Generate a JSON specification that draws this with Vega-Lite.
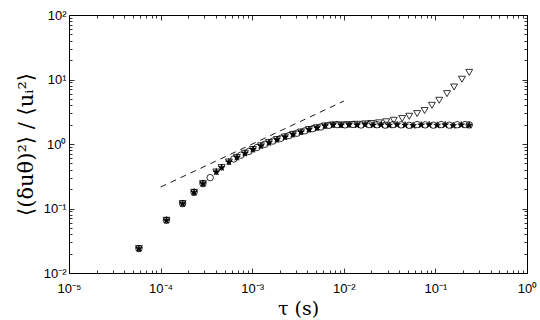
{
  "$schema": "https://vega.github.io/schema/vega-lite/v6.json",
  "width": 458,
  "height": 258,
  "autosize": {"type": "none"},
  "padding": {"left": 69, "top": 15, "right": 13, "bottom": 47},
  "background": "white",
  "config": {
    "view": {"stroke": null},
    "axis": {
      "domainColor": "black",
      "domainWidth": 1,
      "tickColor": "black",
      "tickWidth": 0.8,
      "grid": false,
      "labelFont": "Liberation Sans",
      "labelFontSize": 13,
      "labelColor": "black",
      "titleFont": "DejaVu Serif",
      "titleFontWeight": "normal",
      "titleColor": "black"
    }
  },
  "datasets": {
    "stars": [
      {"t": 5.8e-5, "v": 0.0239}, {"t": 1.16e-4, "v": 0.0656}, {"t": 1.74e-4, "v": 0.119},
      {"t": 2.32e-4, "v": 0.178}, {"t": 2.9e-4, "v": 0.243}, {"t": 4.06e-4, "v": 0.368},
      {"t": 4.64e-4, "v": 0.431}, {"t": 5.57e-4, "v": 0.526}, {"t": 6.81e-4, "v": 0.621},
      {"t": 8.33e-4, "v": 0.718}, {"t": 1.019e-3, "v": 0.822}, {"t": 1.247e-3, "v": 0.938},
      {"t": 1.524e-3, "v": 1.052}, {"t": 1.865e-3, "v": 1.171}, {"t": 2.281e-3, "v": 1.285},
      {"t": 2.789e-3, "v": 1.41}, {"t": 3.411e-3, "v": 1.53}, {"t": 4.17e-3, "v": 1.675},
      {"t": 5.1e-3, "v": 1.78}, {"t": 6.24e-3, "v": 1.905}, {"t": 7.63e-3, "v": 1.985},
      {"t": 9.33e-3, "v": 1.96}, {"t": 1.141e-2, "v": 1.99}, {"t": 1.396e-2, "v": 1.97},
      {"t": 1.707e-2, "v": 2.0}, {"t": 2.088e-2, "v": 1.96}, {"t": 2.553e-2, "v": 1.98},
      {"t": 3.123e-2, "v": 1.95}, {"t": 3.82e-2, "v": 1.99}, {"t": 4.67e-2, "v": 1.96},
      {"t": 5.71e-2, "v": 1.93}, {"t": 6.99e-2, "v": 1.97}, {"t": 8.55e-2, "v": 1.99},
      {"t": 0.1045, "v": 1.95}, {"t": 0.1278, "v": 1.98}, {"t": 0.1563, "v": 1.93},
      {"t": 0.1913, "v": 1.97}, {"t": 0.234, "v": 1.95}
    ],
    "circles": [
      {"t": 5.8e-5, "v": 0.0239}, {"t": 1.16e-4, "v": 0.0656}, {"t": 1.74e-4, "v": 0.119},
      {"t": 2.32e-4, "v": 0.178}, {"t": 2.9e-4, "v": 0.243}, {"t": 3.48e-4, "v": 0.301},
      {"t": 6.3e-4, "v": 0.586}, {"t": 7.53e-4, "v": 0.671}, {"t": 9.21e-4, "v": 0.767},
      {"t": 1.127e-3, "v": 0.881}, {"t": 1.379e-3, "v": 0.993}, {"t": 1.686e-3, "v": 1.112},
      {"t": 2.063e-3, "v": 1.227}, {"t": 2.523e-3, "v": 1.35}, {"t": 3.085e-3, "v": 1.47},
      {"t": 3.773e-3, "v": 1.6}, {"t": 4.61e-3, "v": 1.73}, {"t": 5.64e-3, "v": 1.84},
      {"t": 6.9e-3, "v": 1.95}, {"t": 8.44e-3, "v": 2.0}, {"t": 1.032e-2, "v": 1.98},
      {"t": 1.262e-2, "v": 2.01}, {"t": 1.544e-2, "v": 1.97}, {"t": 1.888e-2, "v": 2.0},
      {"t": 2.309e-2, "v": 1.99}, {"t": 2.824e-2, "v": 1.96}, {"t": 3.454e-2, "v": 2.0},
      {"t": 4.22e-2, "v": 1.98}, {"t": 5.16e-2, "v": 1.95}, {"t": 6.32e-2, "v": 2.0},
      {"t": 7.73e-2, "v": 1.98}, {"t": 9.46e-2, "v": 1.96}, {"t": 0.1156, "v": 2.0},
      {"t": 0.1414, "v": 1.96}, {"t": 0.1729, "v": 1.99}, {"t": 0.2115, "v": 2.0},
      {"t": 0.234, "v": 1.98}
    ],
    "triangles": [
      {"t": 5.8e-5, "v": 0.0239}, {"t": 1.16e-4, "v": 0.0656}, {"t": 1.74e-4, "v": 0.119},
      {"t": 2.32e-4, "v": 0.178}, {"t": 2.9e-4, "v": 0.243}, {"t": 4.06e-4, "v": 0.368},
      {"t": 4.64e-4, "v": 0.431}, {"t": 5.57e-4, "v": 0.526}, {"t": 6.81e-4, "v": 0.621},
      {"t": 8.33e-4, "v": 0.718}, {"t": 1.019e-3, "v": 0.822}, {"t": 1.247e-3, "v": 0.938},
      {"t": 1.524e-3, "v": 1.052}, {"t": 1.865e-3, "v": 1.171}, {"t": 2.281e-3, "v": 1.285},
      {"t": 2.789e-3, "v": 1.41}, {"t": 3.411e-3, "v": 1.53}, {"t": 4.17e-3, "v": 1.675},
      {"t": 5.1e-3, "v": 1.78}, {"t": 6.24e-3, "v": 1.9}, {"t": 7.63e-3, "v": 1.97},
      {"t": 9.33e-3, "v": 1.97}, {"t": 1.141e-2, "v": 1.99}, {"t": 1.396e-2, "v": 2.02},
      {"t": 1.707e-2, "v": 2.05}, {"t": 2.0e-2, "v": 2.08}, {"t": 2.42e-2, "v": 2.13},
      {"t": 2.91e-2, "v": 2.21}, {"t": 3.51e-2, "v": 2.33}, {"t": 4.34e-2, "v": 2.48},
      {"t": 5.18e-2, "v": 2.69}, {"t": 6.32e-2, "v": 2.96}, {"t": 7.62e-2, "v": 3.3},
      {"t": 9.17e-2, "v": 3.98}, {"t": 0.11, "v": 4.76}, {"t": 0.134, "v": 6.04},
      {"t": 0.16, "v": 7.65}, {"t": 0.195, "v": 10.1}, {"t": 0.234, "v": 12.9}
    ],
    "slope": [
      {"t": 1e-4, "v": 0.215}, {"t": 1e-2, "v": 4.63}
    ]
  },
  "resolve": {"axis": {"x": "independent", "y": "independent"}},
  "layer": [
    {
      "data": {"name": "circles"},
      "mark": {"type": "point", "shape": "circle", "filled": false, "stroke": "black", "strokeWidth": 0.8, "size": 42, "opacity": 1},
      "encoding": {
        "x": {
          "field": "t", "type": "quantitative",
          "scale": {"type": "log", "domain": [1e-5, 1], "nice": false},
          "axis": {
            "orient": "bottom",
            "title": "τ (s)",
            "titleFont": "DejaVu Serif",
            "titleFontSize": 19,
            "titlePadding": 2,
            "values": [1e-5,2e-5,3e-5,4e-5,5e-5,6e-5,7e-5,8e-5,9e-5,1e-4,2e-4,3e-4,4e-4,5e-4,6e-4,7e-4,8e-4,9e-4,1e-3,2e-3,3e-3,4e-3,5e-3,6e-3,7e-3,8e-3,9e-3,1e-2,2e-2,3e-2,4e-2,5e-2,6e-2,7e-2,8e-2,9e-2,0.1,0.2,0.3,0.4,0.5,0.6,0.7,0.8,0.9,1],
            "labelExpr": "abs(log(datum.value)/LN10 - round(log(datum.value)/LN10)) < 0.001 ? '10' + (round(log(datum.value)/LN10) < 0 ? '⁻' : '') + ['⁰','¹','²','³','⁴','⁵'][abs(round(log(datum.value)/LN10))] : ''",
            "tickSize": {"condition": {"test": "abs(log(datum.value)/LN10 - round(log(datum.value)/LN10)) < 0.001", "value": -5}, "value": -3},
            "labelPadding": 14,
            "labelFlush": false,
            "labelOverlap": false
          }
        },
        "y": {
          "field": "v", "type": "quantitative",
          "scale": {"type": "log", "domain": [0.01, 100], "nice": false},
          "axis": {
            "orient": "left",
            "title": "⟨(δuθ)²⟩ / ⟨uᵢ²⟩",
            "titleFont": "DejaVu Serif",
            "titleFontSize": 21,
            "titlePadding": 7,
            "values": [0.01,0.02,0.03,0.04,0.05,0.06,0.07,0.08,0.09,0.1,0.2,0.3,0.4,0.5,0.6,0.7,0.8,0.9,1,2,3,4,5,6,7,8,9,10,20,30,40,50,60,70,80,90,100],
            "labelExpr": "abs(log(datum.value)/LN10 - round(log(datum.value)/LN10)) < 0.001 ? '10' + (round(log(datum.value)/LN10) < 0 ? '⁻' : '') + ['⁰','¹','²','³','⁴','⁵'][abs(round(log(datum.value)/LN10))] : ''",
            "tickSize": {"condition": {"test": "abs(log(datum.value)/LN10 - round(log(datum.value)/LN10)) < 0.001", "value": -5}, "value": -3},
            "labelPadding": 8,
            "labelFlush": false,
            "labelOverlap": false
          }
        }
      }
    },
    {
      "data": {"name": "triangles"},
      "mark": {"type": "point", "shape": "triangle-down", "filled": false, "stroke": "black", "strokeWidth": 0.8, "size": 48, "opacity": 1},
      "encoding": {
        "x": {
          "field": "t", "type": "quantitative",
          "scale": {"type": "log", "domain": [1e-5, 1], "nice": false},
          "axis": {
            "orient": "top", "title": null, "labels": false,
            "values": [1e-5,2e-5,3e-5,4e-5,5e-5,6e-5,7e-5,8e-5,9e-5,1e-4,2e-4,3e-4,4e-4,5e-4,6e-4,7e-4,8e-4,9e-4,1e-3,2e-3,3e-3,4e-3,5e-3,6e-3,7e-3,8e-3,9e-3,1e-2,2e-2,3e-2,4e-2,5e-2,6e-2,7e-2,8e-2,9e-2,0.1,0.2,0.3,0.4,0.5,0.6,0.7,0.8,0.9,1],
            "tickSize": {"condition": {"test": "abs(log(datum.value)/LN10 - round(log(datum.value)/LN10)) < 0.001", "value": -5}, "value": -3}
          }
        },
        "y": {
          "field": "v", "type": "quantitative",
          "scale": {"type": "log", "domain": [0.01, 100], "nice": false},
          "axis": {
            "orient": "right", "title": null, "labels": false,
            "values": [0.01,0.02,0.03,0.04,0.05,0.06,0.07,0.08,0.09,0.1,0.2,0.3,0.4,0.5,0.6,0.7,0.8,0.9,1,2,3,4,5,6,7,8,9,10,20,30,40,50,60,70,80,90,100],
            "tickSize": {"condition": {"test": "abs(log(datum.value)/LN10 - round(log(datum.value)/LN10)) < 0.001", "value": -5}, "value": -3}
          }
        }
      }
    },
    {
      "data": {"name": "stars"},
      "mark": {"type": "point", "shape": "M0,-1L0.235,-0.324L0.951,-0.309L0.38,0.124L0.588,0.809L0,0.4L-0.588,0.809L-0.38,0.124L-0.951,-0.309L-0.235,-0.324Z", "filled": true, "fill": "black", "stroke": "black", "strokeWidth": 0.6, "size": 50, "opacity": 1},
      "encoding": {
        "x": {"field": "t", "type": "quantitative", "scale": {"type": "log", "domain": [1e-5, 1], "nice": false}, "axis": null},
        "y": {"field": "v", "type": "quantitative", "scale": {"type": "log", "domain": [0.01, 100], "nice": false}, "axis": null}
      }
    },
    {
      "data": {"name": "slope"},
      "mark": {"type": "line", "color": "black", "strokeWidth": 0.9, "strokeDash": [6, 5]},
      "encoding": {
        "x": {"field": "t", "type": "quantitative", "scale": {"type": "log", "domain": [1e-5, 1], "nice": false}, "axis": null},
        "y": {"field": "v", "type": "quantitative", "scale": {"type": "log", "domain": [0.01, 100], "nice": false}, "axis": null}
      }
    }
  ]
}
